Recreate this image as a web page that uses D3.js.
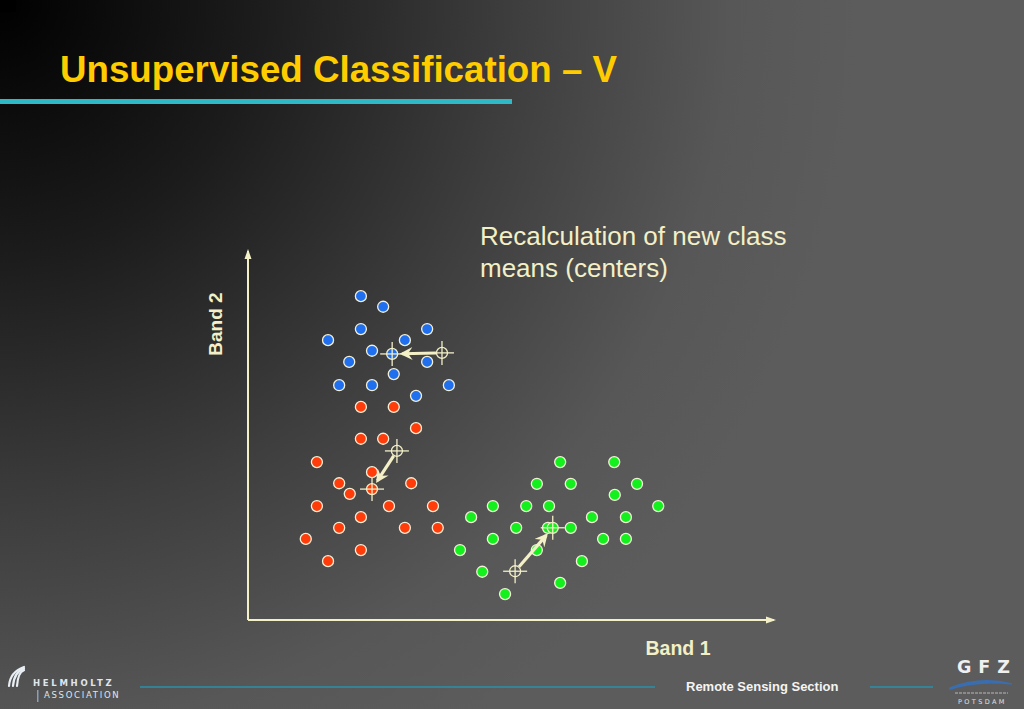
<!DOCTYPE html>
<html>
<head>
<meta charset="utf-8">
<script src="https://cdn.jsdelivr.net/npm/d3@7"></script>
<style>
  html, body { margin: 0; padding: 0; background: #5a5a5a; }
  svg { display: block; }
</style>
</head>
<body>
<div id="chart"></div>
<script>
// points, in band units (x = Band 1, y = Band 2)
const blueX = [21.3, 25.5, 21.3, 33.8, 15.1, 29.6, 23.4, 19.1, 33.8, 27.5, 17.2, 23.4, 37.9, 31.7];
const blueY = [61.1, 59.1, 54.9, 54.9, 52.8, 52.8, 50.8, 48.7, 48.7, 46.4, 44.3, 44.3, 44.3, 42.3];

const redX = [21.3, 27.5, 31.7, 21.3, 25.5, 13.0, 23.4, 17.2, 30.8, 19.2, 13.0, 26.6, 34.9, 21.3, 17.2, 29.6, 35.8, 10.9, 21.3, 15.1];
const redY = [40.2, 40.2, 36.2, 34.2, 34.2, 29.8, 27.9, 25.8, 25.8, 23.8, 21.5, 21.5, 21.5, 19.4, 17.4, 17.4, 17.4, 15.3, 13.2, 11.1];

const greenX = [58.9, 69.1, 54.5, 60.9, 73.4, 69.2, 46.2, 52.5, 56.8, 77.4, 42.1, 64.9, 71.3, 50.6, 56.6, 60.9, 46.2, 67.0, 71.3, 40.0, 54.5, 63.0, 44.2, 58.9, 48.5];
const greenY = [29.8, 29.8, 25.7, 25.7, 25.7, 23.6, 21.5, 21.5, 21.5, 21.5, 19.4, 19.4, 19.4, 17.4, 17.4, 17.4, 15.3, 15.3, 15.3, 13.2, 13.2, 11.1, 9.1, 7.0, 4.9];

// class centres: old position -> recalculated position
const classes = ["blue", "red", "green"];
const classColors = ["#1f6fee", "#ff3c0a", "#14f01e"];
const oldCenterX = [36.6, 28.1, 50.4];
const oldCenterY = [50.4, 31.9, 9.2];
const newCenterX = [27.2, 23.4, 57.5];
const newCenterY = [50.2, 24.7, 17.4];

const W = 1024, H = 709;
const cream = "#f3efc6";

const svg = d3.select("#chart").append("svg")
    .attr("width", W)
    .attr("height", H);

const defs = svg.append("defs");

// slide background
const bg = defs.append("radialGradient")
    .attr("id", "bg")
    .attr("gradientUnits", "userSpaceOnUse")
    .attr("cx", 0).attr("cy", 0).attr("r", 860);
bg.append("stop").attr("offset", "0%").attr("stop-color", "#000");
bg.append("stop").attr("offset", "30%").attr("stop-color", "#1c1c1c");
bg.append("stop").attr("offset", "60%").attr("stop-color", "#3e3e3e");
bg.append("stop").attr("offset", "85%").attr("stop-color", "#575757");
bg.append("stop").attr("offset", "100%").attr("stop-color", "#5c5c5c");

svg.append("rect")
    .attr("width", W).attr("height", H)
    .attr("fill", "url(#bg)");
svg.append("rect")
    .attr("width", 16).attr("height", 12)
    .attr("fill", "#000");

// arrow heads
defs.append("marker")
    .attr("id", "axisArrow")
    .attr("viewBox", "0 0 10 10")
    .attr("refX", 8).attr("refY", 5)
    .attr("markerUnits", "userSpaceOnUse")
    .attr("markerWidth", 10).attr("markerHeight", 10)
    .attr("orient", "auto")
    .append("path")
    .attr("d", "M0,1.5 L10,5 L0,8.5 Z")
    .attr("fill", cream);

defs.append("marker")
    .attr("id", "moveArrow")
    .attr("viewBox", "0 0 10 10")
    .attr("refX", 8).attr("refY", 5)
    .attr("markerUnits", "userSpaceOnUse")
    .attr("markerWidth", 13).attr("markerHeight", 13)
    .attr("orient", "auto")
    .append("path")
    .attr("d", "M0,0 L10,5 L0,10 L3.5,5 Z")
    .attr("fill", cream);

// title
svg.append("text")
    .attr("x", 60).attr("y", 82)
    .attr("font-family", "Liberation Sans, Arial, sans-serif")
    .attr("font-weight", "bold")
    .attr("font-size", 37.5)
    .attr("textLength", 557)
    .attr("lengthAdjust", "spacingAndGlyphs")
    .attr("fill", "#ffcc00")
    .text("Unsupervised Classification – V");

svg.append("rect")
    .attr("x", 0).attr("y", 99)
    .attr("width", 512).attr("height", 5)
    .attr("fill", "#2fb9c6");

// caption
svg.append("text")
    .attr("font-family", "Liberation Sans, Arial, sans-serif")
    .attr("font-size", 26)
    .attr("fill", cream)
    .selectAll("tspan")
    .data(["Recalculation of new class", "means (centers)"])
    .join("tspan")
    .attr("x", 480)
    .attr("y", (d, i) => 245 + i * 32)
    .text(d => d);

// scales
const x = d3.scaleLinear().domain([0, 100]).range([248, 778]);
const y = d3.scaleLinear().domain([0, 70]).range([620, 249]);

// axes (plain arrows, no ticks)
const axes = svg.append("g")
    .attr("stroke", cream)
    .attr("stroke-width", 2);
axes.append("line")
    .attr("x1", x(0)).attr("y1", y(0))
    .attr("x2", x(0)).attr("y2", y(70) + 2)
    .attr("marker-end", "url(#axisArrow)");
axes.append("line")
    .attr("x1", x(0)).attr("y1", y(0))
    .attr("x2", x(100) - 4).attr("y2", y(0))
    .attr("marker-end", "url(#axisArrow)");

svg.append("text")
    .attr("transform", "translate(222,324) rotate(-90)")
    .attr("text-anchor", "middle")
    .attr("font-family", "Liberation Sans, Arial, sans-serif")
    .attr("font-weight", "bold")
    .attr("font-size", 19)
    .attr("fill", cream)
    .text("Band 2");

svg.append("text")
    .attr("x", 678).attr("y", 655)
    .attr("text-anchor", "middle")
    .attr("font-family", "Liberation Sans, Arial, sans-serif")
    .attr("font-weight", "bold")
    .attr("font-size", 19.5)
    .attr("fill", cream)
    .text("Band 1");

// sample points
const points = [];
blueX.forEach((d, i) => points.push({x: d, y: blueY[i], c: 0}));
redX.forEach((d, i) => points.push({x: d, y: redY[i], c: 1}));
greenX.forEach((d, i) => points.push({x: d, y: greenY[i], c: 2}));

svg.append("g")
    .selectAll("circle")
    .data(points)
    .join("circle")
    .attr("cx", d => x(d.x))
    .attr("cy", d => y(d.y))
    .attr("r", 5.5)
    .attr("fill", d => classColors[d.c])
    .attr("stroke", "#f4f0d8")
    .attr("stroke-width", 1.3);

// centres and their movement
const centers = classes.map((name, i) => ({
    name: name,
    color: classColors[i],
    x0: x(oldCenterX[i]), y0: y(oldCenterY[i]),
    x1: x(newCenterX[i]), y1: y(newCenterY[i])
}));

function crosshair(g, cx, cy, fill) {
    g.append("circle")
        .attr("cx", cx).attr("cy", cy).attr("r", 5.5)
        .attr("fill", fill)
        .attr("stroke", cream)
        .attr("stroke-width", 1.3);
    g.append("line")
        .attr("x1", cx - 12).attr("x2", cx + 12)
        .attr("y1", cy).attr("y2", cy);
    g.append("line")
        .attr("x1", cx).attr("x2", cx)
        .attr("y1", cy - 12).attr("y2", cy + 12);
}

centers.forEach(c => {
    const g = svg.append("g")
        .attr("stroke", cream)
        .attr("stroke-width", 1.3);
    crosshair(g, c.x0, c.y0, "none");
    crosshair(g, c.x1, c.y1, c.color);

    const dx = c.x1 - c.x0, dy = c.y1 - c.y0;
    const len = Math.sqrt(dx * dx + dy * dy);
    const ux = dx / len, uy = dy / len;
    g.append("line")
        .attr("x1", c.x0 + ux * 6).attr("y1", c.y0 + uy * 6)
        .attr("x2", c.x1 - ux * 10).attr("y2", c.y1 - uy * 10)
        .attr("stroke-width", 3.2)
        .attr("marker-end", "url(#moveArrow)");
});

// footer
const footer = svg.append("g");

footer.append("line")
    .attr("x1", 140).attr("x2", 655)
    .attr("y1", 687).attr("y2", 687)
    .attr("stroke", "#2a90ad").attr("stroke-width", 1.5);
footer.append("line")
    .attr("x1", 870).attr("x2", 933)
    .attr("y1", 687).attr("y2", 687)
    .attr("stroke", "#2a90ad").attr("stroke-width", 1.5);

footer.append("text")
    .attr("x", 686).attr("y", 691)
    .attr("font-family", "Liberation Sans, Arial, sans-serif")
    .attr("font-weight", "bold")
    .attr("font-size", 13)
    .attr("fill", "#f4f4f4")
    .text("Remote Sensing Section");

// Helmholtz mark
const wing = footer.append("g")
    .attr("fill", "none")
    .attr("stroke", "#e8eef4")
    .attr("stroke-width", 2.2)
    .attr("stroke-linecap", "round");
[0, 4, 8].forEach(o => {
    wing.append("path")
        .attr("d", `M${9 + o},${686} Q${10 + o},${672} ${24},${667 + o * 0.4}`);
});
footer.append("text")
    .attr("x", 33).attr("y", 686)
    .attr("font-family", "DejaVu Sans, sans-serif")
    .attr("font-weight", "bold")
    .attr("font-size", 8.5)
    .attr("letter-spacing", 2.7)
    .attr("fill", "#dfe6ee")
    .text("HELMHOLTZ");
footer.append("rect")
    .attr("x", 37).attr("y", 690)
    .attr("width", 1.5).attr("height", 12)
    .attr("fill", "#8aa0b8");
footer.append("text")
    .attr("x", 44).attr("y", 698)
    .attr("font-family", "DejaVu Sans, sans-serif")
    .attr("font-size", 8.5)
    .attr("letter-spacing", 1.7)
    .attr("fill", "#dfe6ee")
    .text("ASSOCIATION");

// GFZ mark
footer.append("text")
    .attr("x", 957).attr("y", 673)
    .attr("font-family", "DejaVu Sans, sans-serif")
    .attr("font-weight", "bold")
    .attr("font-size", 17.5)
    .attr("letter-spacing", 7)
    .attr("fill", "#f0f0f0")
    .text("GFZ");
footer.append("path")
    .attr("d", "M950,688 Q980,676 1012,684 Q980,680 950,689 Z")
    .attr("fill", "#3a6eb0")
    .attr("stroke", "#3a6eb0")
    .attr("stroke-width", 1.5);
footer.append("line")
    .attr("x1", 955).attr("x2", 1008)
    .attr("y1", 693).attr("y2", 693)
    .attr("stroke", "#8a8a8a").attr("stroke-width", 2)
    .attr("stroke-dasharray", "3,1");
footer.append("text")
    .attr("x", 958).attr("y", 704)
    .attr("font-family", "DejaVu Sans, sans-serif")
    .attr("font-size", 6.5)
    .attr("letter-spacing", 2.4)
    .attr("fill", "#e0e0e0")
    .text("POTSDAM");
</script>
</body>
</html>
